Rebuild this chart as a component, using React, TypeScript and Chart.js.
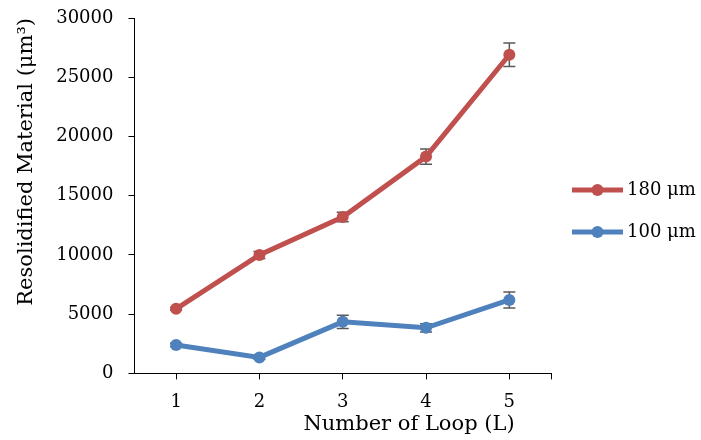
import React, { useEffect, useRef } from 'react';
import { Chart, registerables } from 'chart.js';

Chart.register(...registerables);

const categories = ['1', '2', '3', '4', '5'];
const seriesLabels = ['180 μm', '100 μm'];
const series180 = [5450, 10000, 13200, 18300, 26900];
const error180 = [120, 300, 400, 650, 1000];
const series100 = [2400, 1350, 4350, 3850, 6200];
const error100 = [150, 150, 550, 350, 680];
const seriesColors = ['#C0504D', '#4F81BD'];
const yMin = 0;
const yMax = 30000;
const yStep = 5000;
const xTitle = 'Number of Loop (L)';
const yTitle = 'Resolidified Material (μm³)';

const FONT_FAMILY = '"DejaVu Serif", serif';
const LEGEND_BOX = 47;
const LEGEND_ITEM_H = 22;
const errorSets = [error180, error100];

const errorBarPlugin = {
  id: 'errorBars',
  beforeDatasetsDraw(chart: any) {
    const { ctx } = chart;
    const y = chart.scales.y;
    ctx.save();
    ctx.strokeStyle = '#595959';
    ctx.lineWidth = 1.5;
    chart.data.datasets.forEach((ds: any, di: number) => {
      const meta = chart.getDatasetMeta(di);
      meta.data.forEach((pt: any, i: number) => {
        const v = ds.data[i];
        const e = errorSets[di][i];
        const px = pt.x;
        const yt = y.getPixelForValue(v + e);
        const yb = y.getPixelForValue(v - e);
        ctx.beginPath();
        ctx.moveTo(px, yt);
        ctx.lineTo(px, yb);
        ctx.moveTo(px - 6, yt);
        ctx.lineTo(px + 6, yt);
        ctx.moveTo(px - 6, yb);
        ctx.lineTo(px + 6, yb);
        ctx.stroke();
      });
    });
    ctx.restore();
  },
};

const extrasPlugin = {
  id: 'extras',
  afterDraw(chart: any) {
    const { ctx } = chart;
    const x = chart.scales.x;
    ctx.save();
    // end tick on x axis
    ctx.strokeStyle = '#000';
    ctx.lineWidth = 1;
    ctx.beginPath();
    ctx.moveTo(Math.round(x.right) + 0.5, x.top);
    ctx.lineTo(Math.round(x.right) + 0.5, x.top + 6);
    ctx.stroke();
    // x axis title
    ctx.fillStyle = '#000';
    ctx.font = `21px ${FONT_FAMILY}`;
    ctx.textAlign = 'center';
    ctx.textBaseline = 'middle';
    ctx.fillText(xTitle, 409, 425);
    // legend line samples with markers
    const legend = chart.legend;
    if (legend && legend.legendHitBoxes) {
      legend.legendHitBoxes.forEach((hb: any, i: number) => {
        const x0 = hb.left + 1;
        const x1 = hb.left + 52;
        const cy = hb.top + LEGEND_ITEM_H / 2;
        ctx.strokeStyle = seriesColors[i];
        ctx.lineWidth = 5;
        ctx.beginPath();
        ctx.moveTo(x0, cy);
        ctx.lineTo(x1, cy);
        ctx.stroke();
        ctx.fillStyle = seriesColors[i];
        ctx.beginPath();
        ctx.arc((x0 + x1) / 2, cy, 6, 0, Math.PI * 2);
        ctx.fill();
      });
    }
    ctx.restore();
  },
};

export default function App() {
  const canvasRef = useRef<HTMLCanvasElement | null>(null);

  useEffect(() => {
    document.body.style.margin = '0';
    document.body.style.overflow = 'hidden';
    const canvas = canvasRef.current;
    if (!canvas) return;
    const font = { family: FONT_FAMILY, size: 18 };
    const chart = new Chart(canvas, {
      type: 'line',
      data: {
        labels: categories,
        datasets: [
          {
            label: seriesLabels[0],
            data: series180,
            borderColor: seriesColors[0],
            backgroundColor: seriesColors[0],
            pointBackgroundColor: seriesColors[0],
            pointBorderColor: seriesColors[0],
            borderWidth: 5,
            pointRadius: 6,
            pointBorderWidth: 0,
            tension: 0,
          },
          {
            label: seriesLabels[1],
            data: series100,
            borderColor: seriesColors[1],
            backgroundColor: seriesColors[1],
            pointBackgroundColor: seriesColors[1],
            pointBorderColor: seriesColors[1],
            borderWidth: 5,
            pointRadius: 6,
            pointBorderWidth: 0,
            tension: 0,
          },
        ],
      },
      options: {
        animation: false,
        responsive: false,
        layout: { padding: { left: 0, top: 18, right: 0, bottom: 15 } },
        plugins: {
          tooltip: { enabled: false },
          legend: {
            position: 'right',
            align: 'start',
            maxWidth: 150,
            title: {
              display: true,
              text: ' ',
              font: { family: FONT_FAMILY, size: 10 },
              padding: { top: 129, bottom: 0 },
            },
            labels: {
              boxWidth: LEGEND_BOX,
              boxHeight: LEGEND_ITEM_H,
              padding: 20,
              color: '#000',
              font,
              generateLabels: (ch: any) => {
                const items = (Chart.defaults.plugins.legend.labels as any).generateLabels(ch);
                return items.map((it: any) => ({
                  ...it,
                  fillStyle: 'rgba(0,0,0,0)',
                  strokeStyle: 'rgba(0,0,0,0)',
                  lineWidth: 0,
                }));
              },
            },
          },
        },
        scales: {
          x: {
            type: 'category',
            offset: true,
            grid: {
              display: true,
              drawOnChartArea: false,
              offset: false,
              tickLength: 6,
              color: '#000',
            },
            border: { display: true, color: '#000', width: 1 },
            ticks: { font, color: '#000', padding: 12 },
          },
          y: {
            min: yMin,
            max: yMax,
            grid: { drawOnChartArea: false, tickLength: 6, color: '#000' },
            border: { display: true, color: '#000', width: 1 },
            ticks: {
              stepSize: yStep,
              padding: 15,
              font: { family: FONT_FAMILY, size: 18, lineHeight: 0.2 },
              color: '#000',
              callback: (v: any) => String(v),
            },
            title: {
              display: true,
              text: yTitle,
              align: 'end',
              color: '#000',
              font: { family: FONT_FAMILY, size: 21 },
              padding: { top: 14, bottom: 2 },
            },
          },
        },
      },
      plugins: [errorBarPlugin, extrasPlugin],
    } as any);
    return () => chart.destroy();
  }, []);

  return (
    <div style={{ width: 701, height: 440 }}>
      <canvas ref={canvasRef} width={701} height={440} style={{ display: 'block' }} />
    </div>
  );
}
